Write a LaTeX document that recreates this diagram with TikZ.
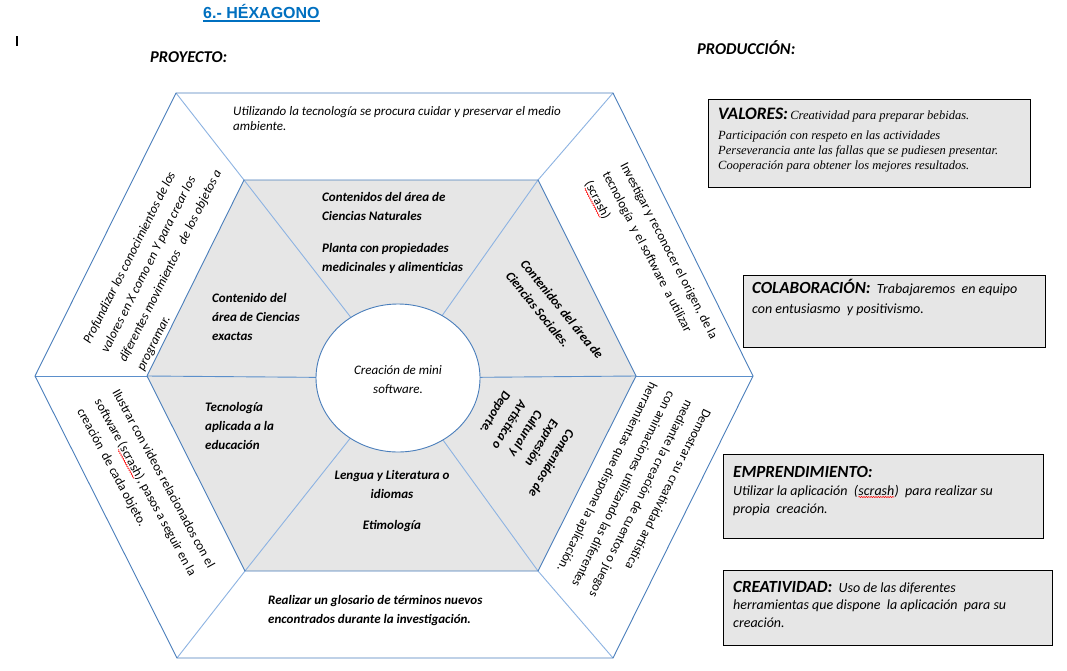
\documentclass[tikz,border=0pt]{standalone}
\usepackage{fontspec}
\setmainfont{Carlito}
\newfontfamily\arialf{Liberation Sans}
\newfontfamily\serifit{Liberation Serif}
\usetikzlibrary{shapes.geometric,decorations.pathmorphing}
\definecolor{hexdark}{HTML}{4A7EBB}
\definecolor{hexmid}{HTML}{5B8FCB}
\definecolor{hexlight}{HTML}{8DB3E2}
\definecolor{fillgray}{HTML}{E6E6E6}
\definecolor{titleblue}{HTML}{0070C0}
\newcommand\sqw[1]{\tikz[baseline=(sq.base)]{\node[inner sep=0pt,outer sep=0pt](sq){#1};\draw[red,line width=0.5pt,decorate,decoration={snake,amplitude=0.6pt,segment length=2.4pt}]([yshift=-2pt]sq.base west)--([yshift=-2pt]sq.base east);}}
\tikzset{
  darkline/.style={hexdark,line width=0.9pt},
  midline/.style={hexmid,line width=0.9pt},
  lightline/.style={hexlight,line width=0.9pt},
  innertxt/.style={inner sep=0pt,align=left,font=\fontsize{13}{19}\selectfont\bfseries\itshape},
  traptxt/.style={inner sep=0pt,align=left,font=\fontsize{13}{20}\selectfont},
  boxshape/.style={draw=black,line width=0.9pt,fill=fillgray,inner sep=0pt,anchor=north west},
  boxtxt/.style={inner sep=0pt,align=left,anchor=base west,font=\fontsize{14}{18}\selectfont\itshape},
  headtxt/.style={inner sep=0pt,anchor=base west,font=\fontsize{16.5}{20}\selectfont\bfseries\itshape}
}
\begin{document}
\begin{tikzpicture}[x=1pt,y=-1pt]
\useasboundingbox (0,0) rectangle (1067,670);
\fill[white] (0,0) rectangle (1067,670);

% title and headings
\node[inner sep=0pt,anchor=base west,text=titleblue,font=\arialf\fontsize{16}{20}\selectfont\bfseries] (title) at (203,18) {6.- HÉXAGONO};
\draw[titleblue,line width=1.4pt] ([yshift=-3pt]title.base west) -- ([yshift=-3pt]title.base east);
\draw[black,line width=1.6pt] (17,36) -- (17,46);
\node[headtxt] (proy) at (150,62) {PROYECTO:};
\node[headtxt] (prod) at (697,54) {PRODUCCIÓN:};

% hexagon coordinates
\coordinate (OTL) at (176,93);
\coordinate (OTR) at (613,93);
\coordinate (OR) at (753,376);
\coordinate (OBR) at (613,658);
\coordinate (OBL) at (177,658);
\coordinate (OL) at (35,376);
\coordinate (ITL) at (244,180);
\coordinate (ITR) at (538,180);
\coordinate (IR) at (636,376);
\coordinate (IBR) at (538,571);
\coordinate (IBL) at (245,571);
\coordinate (IL) at (147,376);
\coordinate (C) at (398,378);

\fill[fillgray] (ITL)--(ITR)--(IR)--(IBR)--(IBL)--(IL)--cycle;
\draw[lightline] (OTL)--(ITL) (OTR)--(ITR) (OBR)--(IBR) (OBL)--(IBL);
\draw[midline] (OL)--(IL) (OR)--(IR);
\draw[lightline] (ITL)--(C) (ITR)--(C) (IBL)--(C) (IBR)--(C);
\draw[midline] (IL)--(C) (IR)--(C);
\draw[darkline] (OTL)--(OTR)--(OR)--(OBR)--(OBL)--(OL)--cycle;
\draw[darkline] (ITL)--(ITR)--(IR)--(IBR)--(IBL)--(IL)--cycle;
\node[ellipse,draw=hexdark,line width=0.9pt,fill=white,minimum width=164pt,minimum height=148pt,inner sep=0pt] (circ) at (C) {};
\node[inner sep=0pt,align=center,anchor=base,font=\fontsize{13}{19}\selectfont\itshape] (circTxt) at (398,393) {Creación de mini\\software.};

% inner texts (anchor = baseline of the last line)
\node[innertxt,anchor=base west] (inTop) at (322,271) {Contenidos del área de\\Ciencias Naturales\\[13pt]Planta con propiedades\\medicinales  y alimenticias};
\node[innertxt,anchor=base west] (inLeft) at (212,340) {Contenido del\\área de Ciencias\\exactas};
\node[innertxt,anchor=base west] (inLL) at (205,449) {Tecnología\\aplicada a la\\educación};
\node[innertxt,anchor=base,align=center] (inBot) at (392,529) {Lengua y Literatura o\\idiomas\\[12pt]Etimología};
\node[innertxt,anchor=base west,rotate=-51] (inUR) at (505,276) {Contenidos del área de\\Ciencias Sociales.};
\node[innertxt,anchor=base west,rotate=239,font=\fontsize{13}{18.6}\selectfont\bfseries\itshape] (inLR) at (504,390) {Contenidos de\\Expresión\\Cultural y\\Artística o\\Deporte.};

% outer trapezoid texts
\node[traptxt,anchor=base west,font=\fontsize{13}{15}\selectfont\itshape] (tTop) at (233,130) {Utilizando la tecnología se procura cuidar y preservar el medio\\ambiente.};
\node[traptxt,anchor=base west,font=\fontsize{13}{19}\selectfont\bfseries\itshape] (tBot) at (268,623) {Realizar un glosario de términos nuevos\\encontrados durante la investigación.};
\node[traptxt,anchor=base west,rotate=63.3,font=\fontsize{13}{20}\selectfont\itshape] (tUL) at (143.6,371.9) {Profundizar los conocimientos de los\\valores en X como en Y para crear  los\\diferentes movimientos \ \ de los objetos a\\programar.};
\node[traptxt,anchor=base west,rotate=-62.5] (tUR) at (584.5,183.5) {Investigar y reconocer el origen, de la\\tecnología \ y el software \ a utilizar\\(\sqw{scrash})};
\node[traptxt,anchor=base west,rotate=-61.5] (tLL) at (76.8,411.1) {Ilustrar con videos relacionados con el\\software (\sqw{scrash}), pasos a seguir en la\\creación \ de cada objeto.};
\node[traptxt,anchor=base west,rotate=243.6] (tLR) at (650.2,381.3) {Demostrar su creatividad artística\\mediante la creación de cuentos o juegos\\con animaciones utilizando las diferentes\\herramientas que dispone la aplicación.};

% right boxes
\node[boxshape,minimum width=322pt,minimum height=88pt] (bVal) at (708,99) {};
\node[inner sep=0pt,anchor=base west] (hVal) at (718,119) {{\fontsize{17.5}{20}\selectfont\bfseries\itshape VALORES:} {\serifit\fontsize{12.5}{15}\selectfont\itshape Creatividad para preparar bebidas.}};
\node[inner sep=0pt,anchor=base west,align=left,font=\serifit\fontsize{12.5}{15}\selectfont\itshape] (tVal) at (718,169) {Participación con respeto en las actividades\\Perseverancia ante las fallas que se pudiesen presentar.\\Cooperación para obtener los mejores resultados.};

\node[boxshape,minimum width=302pt,minimum height=72pt] (bCol) at (743,275) {};
\node[boxtxt,font=\fontsize{14}{20}\selectfont\itshape] (tCol) at (752,313) {{\fontsize{17}{20}\selectfont\bfseries COLABORACIÓN:} \ Trabajaremos \ en equipo\\con entusiasmo \ y positivismo.};

\node[boxshape,minimum width=320pt,minimum height=84pt] (bEmp) at (723,454) {};
\node[boxtxt] (tEmp) at (733,513) {{\fontsize{17}{20}\selectfont\bfseries EMPRENDIMIENTO:}\\Utilizar la aplicación \ (\sqw{scrash}) \ para realizar su\\propia \ creación.};

\node[boxshape,minimum width=329pt,minimum height=75pt] (bCre) at (723,570) {};
\node[boxtxt,font=\fontsize{14}{17.5}\selectfont\itshape] (tCre) at (733,627) {{\fontsize{17}{20}\selectfont\bfseries CREATIVIDAD:} \ Uso de las diferentes\\herramientas que dispone \ la aplicación \ para su\\creación.};
\end{tikzpicture}
\end{document}
